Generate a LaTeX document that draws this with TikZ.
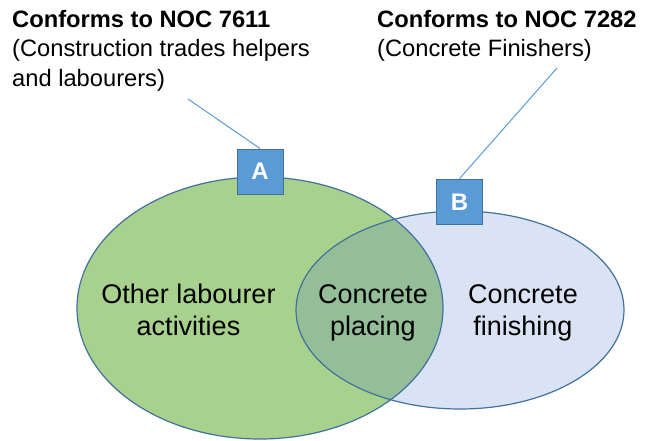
\documentclass[tikz,border=0pt]{standalone}
\usepackage{fontspec}
\setmainfont{Liberation Sans}
\usetikzlibrary{shapes.geometric}
\definecolor{vennGreen}{HTML}{A9D18E}
\definecolor{vennBlue}{HTML}{4472C4}
\definecolor{vennEdge}{HTML}{41719C}
\definecolor{tagFill}{HTML}{5B9BD5}
\begin{document}
\begin{tikzpicture}[x=1pt,y=-1pt,
  heading/.style={anchor=base west,inner sep=0pt,font=\fontsize{23.7}{28}\selectfont\bfseries},
  note/.style={anchor=base west,inner sep=0pt,font=\fontsize{23.7}{28}\selectfont},
  setlabel/.style={anchor=base,inner sep=0pt,font=\fontsize{27}{32}\selectfont},
  tagbox/.style={draw=vennEdge,line width=1pt,fill=tagFill,text=white,
    minimum width=46pt,minimum height=45pt,inner sep=0pt,
    font=\fontsize{24}{28}\selectfont\bfseries},
  leader/.style={draw=tagFill,line width=1pt}]
\useasboundingbox (0,0) rectangle (648,440);

% the two sets
\node[ellipse,draw=vennEdge,line width=1.2pt,fill=vennGreen,
  minimum width=366pt,minimum height=262pt,inner sep=0pt] (setA) at (260,308) {};
\node[ellipse,draw=vennEdge,line width=1.2pt,fill=vennBlue,fill opacity=0.2,
  minimum width=328pt,minimum height=198pt,inner sep=0pt] (setB) at (460,310) {};

% set contents
\node[setlabel] (a1) at (188.5,303) {Other labourer};
\node[setlabel] (a2) at (188.5,335) {activities};
\node[setlabel] (c1) at (373,303) {Concrete};
\node[setlabel] (c2) at (373,335) {placing};
\node[setlabel] (b1) at (523,303) {Concrete};
\node[setlabel] (b2) at (523,335) {finishing};

% occupation notes
\node[heading] (hA) at (12,27) {Conforms to NOC 7611};
\node[note] (nA1) at (12,56.5) {(Construction trades helpers};
\node[note] (nA2) at (12,86) {and labourers)};
\node[heading] (hB) at (377,27) {Conforms to NOC 7282};
\node[note] (nB1) at (377,56.5) {(Concrete Finishers)};

% tags with leader lines
\node[tagbox] (tagA) at (260,171.5) {A};
\node[tagbox,minimum width=45.6pt,minimum height=45.7pt] (tagB) at (459.5,202) {B};
\coordinate (endA) at (188,99);
\coordinate (endB) at (557,68);
\draw[leader] (tagA.north) -- (endA);
\draw[leader] (tagB.north) -- (endB);
\end{tikzpicture}
\end{document}
